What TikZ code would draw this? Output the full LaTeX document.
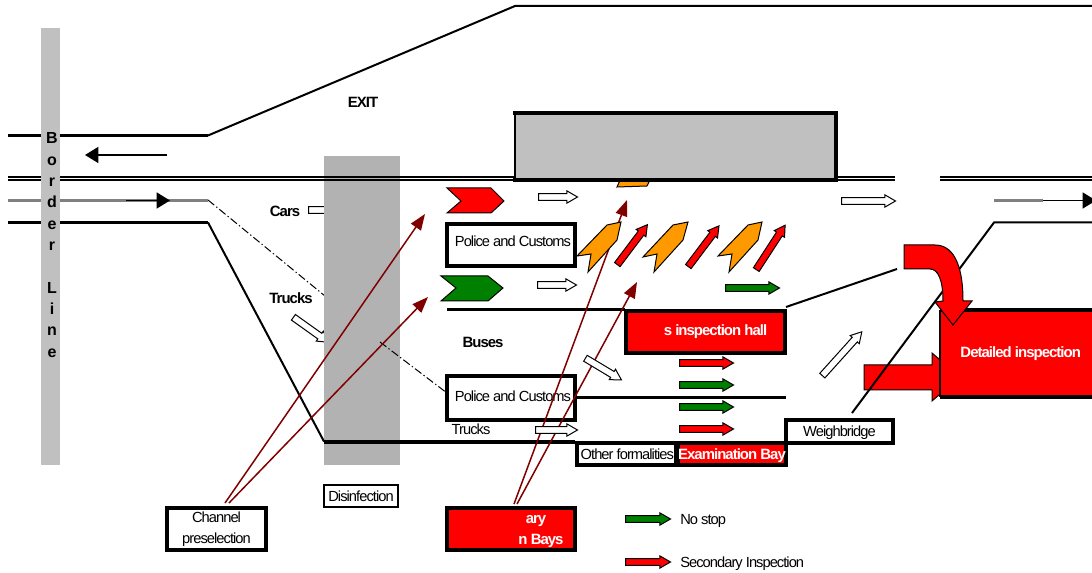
\documentclass[tikz,border=0pt]{standalone}
\usepackage{fontspec}
\setmainfont[LetterSpace=-6.5]{Liberation Sans}
\newfontfamily\borderfont{Liberation Sans}
\usetikzlibrary{shapes.arrows,arrows.meta}
\definecolor{bar-gray}{HTML}{C0C0C0}
\definecolor{zone-gray}{HTML}{B2B2B2}
\definecolor{road-gray}{HTML}{808080}
\definecolor{chan-red}{HTML}{FF0000}
\definecolor{chan-green}{HTML}{008000}
\definecolor{bay-orange}{HTML}{FF9900}
\definecolor{maroon-line}{HTML}{800000}
\tikzset{
  px/.style={line width=#1*0.75pt},
  txt/.style={font=\fontsize{11}{16}\selectfont, inner sep=0pt, text height=8pt, text depth=0pt},
  boldtxt/.style={font=\fontsize{11.2}{16}\selectfont\bfseries, inner sep=0pt, text height=8pt, text depth=0pt},
  thickbox/.style={draw=black, px=4, inner sep=0pt, align=center},
  flow/.style={shape=single arrow, anchor=tail, draw=black, px=1, inner sep=2.2pt,
    minimum height=#1*0.75pt, minimum width=9pt, single arrow tip angle=60,
    single arrow head extend=2pt},
  road/.style={draw=black, px=3},
  thinroad/.style={draw=black, px=2},
  chan/.style={draw=maroon-line, px=1.5, -{Triangle[length=12pt,width=9pt]}},
  dashdot/.style={draw=black, px=1, dash pattern=on 6pt off 2pt on 1pt off 2pt}
}
\begin{document}
\begin{tikzpicture}[x=0.75pt, y=-0.75pt]
      \useasboundingbox (0,0) rectangle (1092,573);
      % under the zones
      \node[flow=30, fill=white] (carsF) at (308,210) {};
      \node[flow=43, fill=white, rotate=-35.5] (trucksF) at (293,317) {};
      \coordinate (dd1) at (208,200);
      \coordinate (dd2) at (325,296);
      \draw[dashdot] (dd1) -- (dd2);
      % disinfection zone
      \node[fill=zone-gray, minimum width=76*0.75pt, minimum height=309*0.75pt, inner sep=0pt] (DIS) at (362,310.5) {};
      \coordinate (dd3) at (380,342);
      \coordinate (dd4) at (447,393);
      \draw[dashdot] (dd3) -- (dd4);
      % roads
      \coordinate (r1) at (8,135.5);
      \coordinate (r2) at (208,135.5);
      \coordinate (r3) at (515,6);
      \coordinate (r4) at (1092,6);
      \draw[road] (r1) -- (r2);
      \draw[thinroad] (r2) -- (r3) -- (r4);
      \coordinate (m1) at (8,177);
      \coordinate (m2) at (895,177);
      \coordinate (m3) at (8,180.5);
      \coordinate (m4) at (895,180.5);
      \coordinate (m5) at (940,177);
      \coordinate (m6) at (1092,177);
      \coordinate (m7) at (940,180.5);
      \coordinate (m8) at (1092,180.5);
      \draw[thinroad] (m1) -- (m2);
      \draw[thinroad] (m3) -- (m4);
      \draw[thinroad] (m5) -- (m6);
      \draw[thinroad] (m7) -- (m8);
      \coordinate (g1) at (8,200.5);
      \coordinate (g2) at (208,200.5);
      \coordinate (g3) at (994,200.5);
      \coordinate (g4) at (1043,200.5);
      \draw[draw=road-gray, px=3] (g1) -- (g2);
      \draw[draw=road-gray, px=3] (g3) -- (g4);
      \coordinate (b1) at (8,222.5);
      \coordinate (b2) at (208,222.5);
      \coordinate (b3) at (324,441.5);
      \coordinate (b4) at (575,441.5);
      \draw[road] (b1) -- (b2);
      \draw[thinroad] (b2) -- (b3);
      \draw[draw=black, px=4] (b3) -- (b4);
      % travel directions
      \coordinate (w1) at (167,155);
      \coordinate (w2) at (85,155);
      \draw[draw=black, px=1.5, -{Triangle[length=10pt,width=12pt]}] (w1) -- (w2);
      \coordinate (e1) at (126,200.5);
      \coordinate (e2) at (170,200.5);
      \draw[draw=black, px=1.5, -{Triangle[length=10pt,width=12pt]}] (e1) -- (e2);
      \coordinate (e3) at (1043,200.5);
      \coordinate (e4) at (1096,200.5);
      \draw[draw=black, px=1.5, -{Triangle[length=10pt,width=12pt]}] (e3) -- (e4);
      % border line
      \node[fill=bar-gray, minimum width=19*0.75pt, minimum height=437*0.75pt, inner sep=0pt] (BAR) at (50.5,246.5) {};
      \node[align=center, inner sep=0pt, font=\borderfont\fontsize{12}{16}\selectfont\bfseries] (BLINE) at (52,245) {B\\o\\r\\d\\e\\r\\[16pt]L\\i\\n\\e};
      % building
      \fill[bay-orange, draw=black, px=1] (617,187) -- (647,186) -- (651,178) -- (621,178) -- cycle;
      \node[fill=bar-gray, minimum width=321*0.75pt, minimum height=66*0.75pt, inner sep=0pt] (BLD) at (675.5,146.5) {};
      \coordinate (bT1) at (BLD.north west);
      \coordinate (bT2) at (BLD.north east);
      \coordinate (bB1) at (BLD.south west);
      \coordinate (bB2) at (BLD.south east);
      \draw[draw=black, px=4, line cap=rect] (bT1) -- (bT2) -- (bB2) -- (bB1);
      \draw[thinroad, line cap=rect] (bT1) -- (bB1);
      % labels
      \node[boldtxt] (EXIT) at (363,102) {EXIT};
      \node[boldtxt] (CARS) at (285,211) {Cars};
      \node[boldtxt] (TRK) at (291,298) {Trucks};
      \node[boldtxt] (BUS) at (483,342) {Buses};
      % lanes
      \coordinate (l1) at (447,309.5);
      \coordinate (l2) at (625,309.5);
      \draw[road] (l1) -- (l2);
      \coordinate (l3) at (577,397.5);
      \coordinate (l4) at (786,397.5);
      \draw[road] (l3) -- (l4);
      \coordinate (h1) at (786,307);
      \coordinate (h2) at (897,269);
      \draw[thinroad] (h1) -- (h2);
      % boxes
      \node[thickbox, fill=white, minimum width=128*0.75pt, minimum height=42*0.75pt, txt, text depth=5pt] (PC1) at (511,245) {\hspace{3pt}Police and Customs};
      \node[thickbox, fill=white, minimum width=128*0.75pt, minimum height=44*0.75pt, txt, text depth=2.2pt] (PC2) at (511,398) {\hspace{3pt}Police and Customs};
      \node[thickbox, fill=chan-red, minimum width=159*0.75pt, minimum height=42*0.75pt, text=white, boldtxt, text depth=2.2pt] (HALL) at (705.5,332) {\hspace{15pt}s inspection hall};
      \node[thickbox, fill=white, minimum width=99*0.75pt, minimum height=22*0.75pt, txt] (OTH) at (626,454) {\hspace{2pt}Other formalities};
      \node[thickbox, fill=chan-red, minimum width=106*0.75pt, minimum height=22*0.75pt, text=white, boldtxt] (EXB) at (732,454) {Examination Bay};
      \node[thickbox, fill=white, minimum width=107*0.75pt, minimum height=23*0.75pt, txt] (WB) at (839.5,431) {Weighbridge};
      \node[thickbox, px=2, fill=white, minimum width=74*0.75pt, minimum height=22*0.75pt, txt] (DISL) at (361,496) {Disinfection};
      \node[thickbox, fill=white, minimum width=99*0.75pt, minimum height=42*0.75pt, font=\fontsize{11}{16}\selectfont] (CP) at (216.5,529) {Channel\\preselection};
      \node[thickbox, fill=chan-red, minimum width=128*0.75pt, minimum height=42*0.75pt] (SEC) at (511,529) {};
      \node[boldtxt, text=white] (SECa) at (536,518) {ary};
      \node[boldtxt, text=white] (SECb) at (541,539) {n Bays};
      \node[txt] (TRK2) at (471,429) {Trucks};
      % channel selection
      \coordinate (c1) at (225,503);
      \coordinate (c2) at (425,214);
      \coordinate (c3) at (229,503);
      \coordinate (c4) at (428,297);
      \coordinate (c5) at (514,504);
      \coordinate (c6) at (627,200);
      \coordinate (c7) at (517,504);
      \coordinate (c8) at (637,282);
      \draw[chan] (c1) -- (c2);
      \draw[chan] (c3) -- (c4);
      \draw[chan] (c5) -- (c6);
      \draw[chan] (c7) -- (c8);
      % chevrons
      \fill[chan-red, draw=black, px=1] (447,188) -- (491,188) -- (504,201) -- (491,213) -- (447,213) -- (461,201) -- cycle;
      \fill[chan-green, draw=black, px=1] (441,276) -- (488,276) -- (503,288) -- (488,301) -- (441,301) -- (456,288) -- cycle;
      % orange bays
      \fill[bay-orange, draw=black, px=1] (577,256) -- (607,225) -- (621,222) -- (617,240) -- (588,272) -- (591,254) -- cycle;
      \fill[bay-orange, draw=black, px=1] (643,257) -- (673,225) -- (688,222) -- (683,240) -- (654,272) -- (657,254) -- cycle;
      \fill[bay-orange, draw=black, px=1] (718,256) -- (748,225) -- (762,222) -- (758,240) -- (729,272) -- (732,254) -- cycle;
      % flows
      \node[flow=39, fill=white] (f1) at (538,197) {};
      \node[flow=39, fill=white] (f2) at (537,285) {};
      \node[flow=42, fill=white, rotate=-31] (f3) at (585,358) {};
      \node[flow=42, fill=white] (f4) at (535,430) {};
      \node[flow=59, fill=white, rotate=48] (f5) at (822,376) {};
      \node[flow=54, fill=white] (f6) at (841,201) {};
      \node[flow=50, fill=chan-red, rotate=53] (f7) at (617,265) {};
      \node[flow=51, fill=chan-red, rotate=53] (f8) at (688,267) {};
      \node[flow=53, fill=chan-red, rotate=57] (f9) at (756,270) {};
      \node[flow=54, fill=chan-green] (f10) at (725,288) {};
      \node[flow=54, fill=chan-red] (f11) at (679,363) {};
      \node[flow=54, fill=chan-green] (f12) at (679,385) {};
      \node[flow=54, fill=chan-green] (f13) at (679,407) {};
      \node[flow=54, fill=chan-red] (f14) at (679,429) {};
      % detailed inspection
      \fill[chan-red, draw=black, px=1] (864,365) -- (932,365) -- (932,353) -- (960,377) -- (932,401) -- (932,390) -- (864,390) -- cycle;
      \node[fill=chan-red, minimum width=156*0.75pt, minimum height=87*0.75pt, inner sep=0pt, text=white, boldtxt, text depth=2.2pt] (DET) at (1018,353.5) {\hspace{4pt}Detailed inspection};
      \coordinate (dT1) at (DET.north west);
      \coordinate (dT2) at (DET.north east);
      \coordinate (dB1) at (DET.south west);
      \coordinate (dB2) at (DET.south east);
      \draw[draw=black, px=4] (dT1) -- (dT2);
      \draw[draw=black, px=4] (dB1) -- (dB2);
      \draw[thinroad] (dT1) -- (dB1);
      \coordinate (s1) at (1092,222.5);
      \coordinate (s2) at (994,222.5);
      \coordinate (s3) at (852,413);
      \draw[thinroad] (s1) -- (s2) -- (s3);
      \fill[chan-red, draw=black, px=1] (904,245) -- (935,245) .. controls (952,245) and (963,262) .. (963,301) -- (972,301) -- (953,325) -- (935,302) -- (943,301) .. controls (943,280) and (938,269) .. (930,269) -- (904,269) -- cycle;
      % legend
      \node[flow=45, fill=chan-green] (LG) at (625,519) {};
      \node[txt, anchor=west] (LGt) at (680,519) {No stop};
      \node[flow=45, fill=chan-red] (LR) at (625,562) {};
      \node[txt, anchor=west] (LRt) at (680,562) {Secondary Inspection};
\end{tikzpicture}
\end{document}
